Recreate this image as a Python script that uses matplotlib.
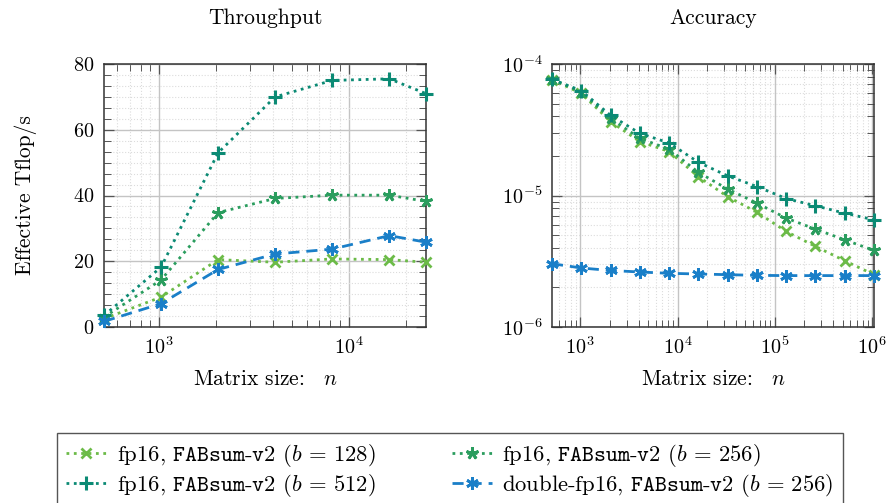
import numpy as np
import matplotlib
matplotlib.use('Agg')
import matplotlib.pyplot as plt
from matplotlib.ticker import LogLocator, AutoMinorLocator, NullFormatter, FixedLocator

plt.rcParams['font.family'] = 'cmr10'
plt.rcParams['mathtext.fontset'] = 'cm'
plt.rcParams['axes.formatter.use_mathtext'] = True
plt.rcParams['font.size'] = 15
plt.rcParams['xtick.labelsize'] = 14.5
plt.rcParams['ytick.labelsize'] = 14.5

# data
n_thr = [512, 1024, 2048, 4096, 8192, 16384, 25600]
thr_b128 = [2.5, 9.1, 20.5, 19.7, 20.7, 20.5, 19.7]
thr_b256 = [3.0, 14.3, 34.8, 39.1, 40.1, 40.1, 38.2]
thr_b512 = [3.5, 18.2, 53.0, 70.0, 75.0, 75.5, 71.0]
thr_dbl = [1.7, 7.1, 17.5, 22.2, 23.7, 27.8, 25.8]

n_acc = [512, 1024, 2048, 4096, 8192, 16384, 32768, 65536,
         131072, 262144, 524288, 1048576]
acc_b128 = [7.6e-5, 5.98e-5, 3.65e-5, 2.57e-5, 2.16e-5, 1.39e-5, 9.8e-6,
            7.46e-6, 5.33e-6, 4.10e-6, 3.19e-6, 2.50e-6]
acc_b256 = [7.65e-5, 6.12e-5, 3.86e-5, 2.72e-5, 2.25e-5, 1.50e-5, 1.12e-5,
            8.75e-6, 6.73e-6, 5.55e-6, 4.60e-6, 3.82e-6]
acc_b512 = [7.65e-5, 6.27e-5, 4.07e-5, 2.97e-5, 2.51e-5, 1.79e-5, 1.41e-5,
            1.17e-5, 9.48e-6, 8.35e-6, 7.34e-6, 6.53e-6]
acc_dbl = [3.03e-6, 2.81e-6, 2.69e-6, 2.62e-6, 2.56e-6, 2.53e-6, 2.50e-6,
           2.47e-6, 2.46e-6, 2.46e-6, 2.46e-6, 2.46e-6]

labels = [r'fp16, $\mathtt{FABsum}$-$\mathtt{v2}$ ($b\,=\,128$)',
          r'fp16, $\mathtt{FABsum}$-$\mathtt{v2}$ ($b\,=\,256$)',
          r'fp16, $\mathtt{FABsum}$-$\mathtt{v2}$ ($b\,=\,512$)',
          r'double-fp16, $\mathtt{FABsum}$-$\mathtt{v2}$ ($b\,=\,256$)']

styles = [
    dict(color='#6cbb48', ls=':', marker='x', ms=7, mew=2.0),
    dict(color='#2a9d5e', ls=':', marker=(5, 2, 0), ms=9, mew=2.0),
    dict(color='#0b8a74', ls=':', marker='+', ms=10, mew=2.2),
    dict(color='#1a7fc8', ls=(0, (4, 2.5)), marker=(6, 2, 0), ms=9, mew=2.0),
]

fig = plt.figure(figsize=(8.87, 5.03), dpi=100)
ax1 = fig.add_axes([104/887, 1-327/503, 322/887, 263/503])
ax2 = fig.add_axes([552/887, 1-327/503, 322/887, 263/503])


def style_axes(ax):
    ax.grid(True, which='major', color='#c4c4c4', lw=1.0, ls='-')
    ax.grid(True, which='minor', color='#dcdcdc', lw=0.8, ls=':')
    ax.set_axisbelow(True)
    ax.tick_params(which='both', direction='in', top=True, right=True,
                   color='#555555')
    ax.tick_params(which='major', length=7, width=0.9, pad=7)
    ax.tick_params(which='minor', length=5, width=0.7)
    for s in ax.spines.values():
        s.set_linewidth(1.1)
        s.set_color('#333333')


xlab = r'Matrix size:$\quad n$'

# Throughput
for y, st in zip([thr_b128, thr_b256, thr_b512, thr_dbl], styles):
    ax1.plot(n_thr, y, lw=2, clip_on=False, zorder=3, **st)
ax1.set_xscale('log')
ax1.set_xlim(512, 25600)
ax1.set_ylim(0, 80)
ax1.set_yticks([0, 20, 40, 60, 80])
ax1.yaxis.set_minor_locator(AutoMinorLocator(6))
ax1.xaxis.set_major_locator(FixedLocator([1e3, 1e4]))
ax1.xaxis.set_minor_locator(LogLocator(base=10, subs=np.arange(2, 10)))
ax1.xaxis.set_minor_formatter(NullFormatter())
ax1.set_title('Throughput', pad=29, fontsize=15.5)
ax1.set_xlabel(xlab, labelpad=8, fontsize=15.5)
ax1.set_ylabel('Effective Tflop/s', labelpad=26, fontsize=15.5)
style_axes(ax1)

# Accuracy
for y, st in zip([acc_b128, acc_b256, acc_b512, acc_dbl], styles):
    ax2.plot(n_acc, y, lw=2, clip_on=False, zorder=3, **st)
ax2.set_xscale('log')
ax2.set_yscale('log')
ax2.set_xlim(512, 1048576)
ax2.set_ylim(1e-6, 1e-4)
ax2.xaxis.set_major_locator(FixedLocator([1e3, 1e4, 1e5, 1e6]))
ax2.xaxis.set_minor_locator(LogLocator(base=10, subs=np.arange(2, 10)))
ax2.xaxis.set_minor_formatter(NullFormatter())
ax2.yaxis.set_major_locator(FixedLocator([1e-6, 1e-5, 1e-4]))
ax2.yaxis.set_minor_locator(LogLocator(base=10, subs=np.arange(2, 10)))
ax2.yaxis.set_minor_formatter(NullFormatter())
ax2.set_title('Accuracy', pad=29, fontsize=15.5)
ax2.set_xlabel(xlab, labelpad=8, fontsize=15.5)
style_axes(ax2)

handles = ax1.get_lines()
order = [0, 2, 1, 3]
leg = fig.legend([handles[i] for i in order], [labels[i] for i in order],
                 loc='upper left', ncol=2, mode='expand', fontsize=16.3,
                 bbox_to_anchor=(57/887, 1-433/503, 786/887, 0),
                 borderaxespad=0, frameon=True, fancybox=False,
                 edgecolor='#555555', framealpha=1, handlelength=1.8,
                 handletextpad=0.45, labelspacing=0.12, borderpad=0.4)
leg.get_frame().set_linewidth(1.0)

fig.savefig('out.png', dpi=100)
